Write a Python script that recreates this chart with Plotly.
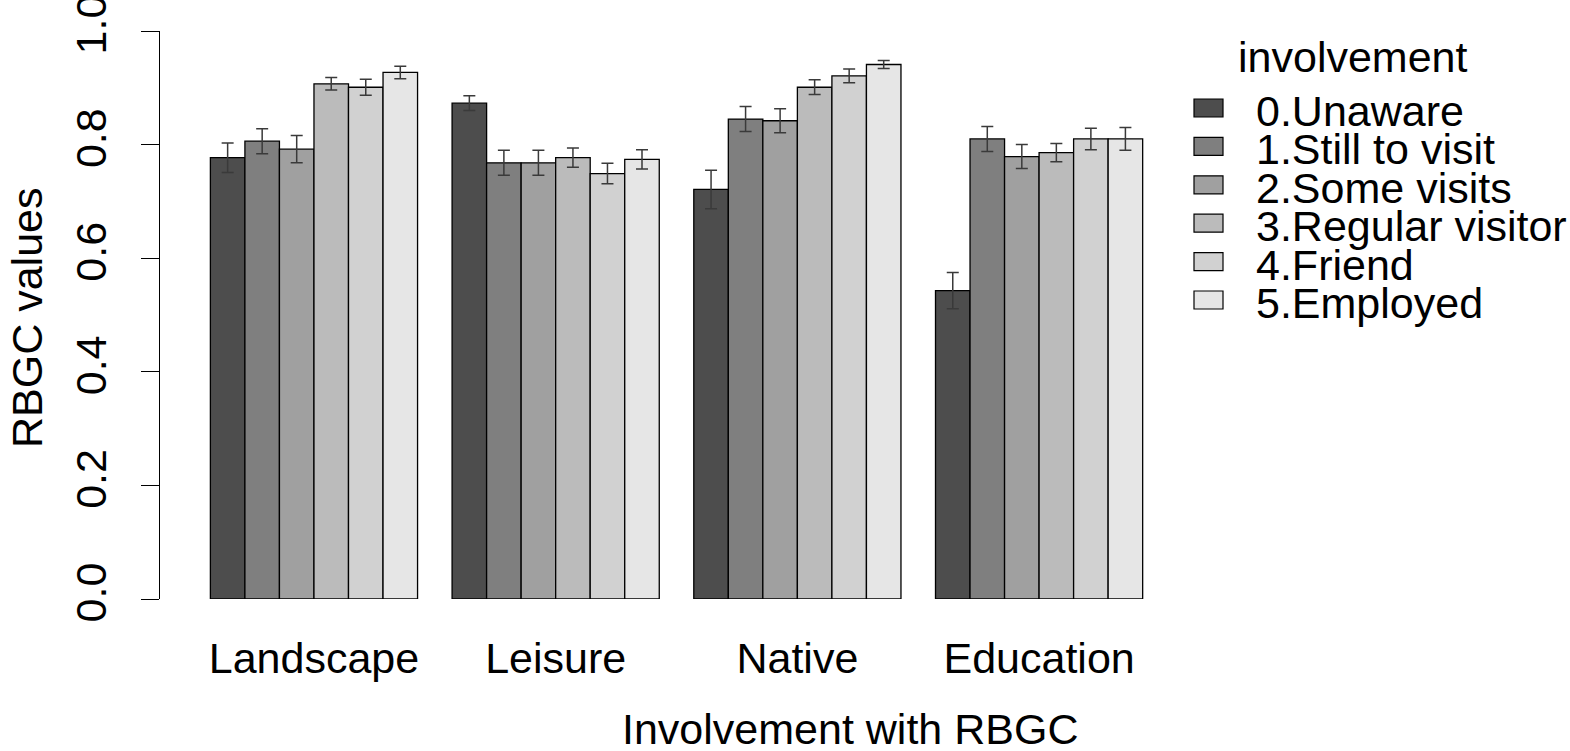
import plotly.graph_objects as go

categories = ["Landscape", "Leisure", "Native", "Education"]
groups = ["0.Unaware", "1.Still to visit", "2.Some visits",
          "3.Regular visitor", "4.Friend", "5.Employed"]
colors = ["#4D4D4D", "#7F7F7F", "#A0A0A0", "#BBBBBB", "#D1D1D1", "#E6E6E6"]

# values[group][category]
means = [
    [0.777, 0.873, 0.721, 0.543],
    [0.806, 0.768, 0.845, 0.810],
    [0.792, 0.768, 0.842, 0.779],
    [0.907, 0.777, 0.901, 0.786],
    [0.901, 0.749, 0.921, 0.810],
    [0.927, 0.774, 0.941, 0.810],
]
errors = [
    [0.026, 0.013, 0.034, 0.032],
    [0.022, 0.022, 0.022, 0.022],
    [0.024, 0.022, 0.021, 0.021],
    [0.011, 0.017, 0.013, 0.016],
    [0.014, 0.018, 0.012, 0.019],
    [0.011, 0.017, 0.007, 0.020],
]
yticks = [0.0, 0.2, 0.4, 0.6, 0.8, 1.0]

FONT = "Liberation Sans, Arial, sans-serif"
FS = 43
W, H = 1570, 751
L, R, T, B = 160, 390, 31, 152
PW, PH = W - L - R, H - T - B

def px2x(px):
    return (px - L) / PW

def px2y(py):
    return (H - B - py) / PH

fig = go.Figure()
for g, name in enumerate(groups):
    fig.add_trace(go.Bar(
        x=categories, y=means[g], name=name,
        marker=dict(color=colors[g], line=dict(color="black", width=1.3)),
        error_y=dict(type="data", array=errors[g], visible=True,
                     color="#3a3a3a", thickness=1.5, width=6),
        showlegend=False,
    ))

shapes = []
annotations = []
# manual legend (R-style)
annotations.append(dict(text="involvement", xref="paper", yref="paper",
                        x=px2x(1236), y=px2y(57), xanchor="left", yanchor="middle",
                        showarrow=False, font=dict(family=FONT, size=FS, color="black")))
row0, pitch = 108, 38.4
for g, name in enumerate(groups):
    cy = row0 + g * pitch
    shapes.append(dict(type="rect", xref="paper", yref="paper",
                       x0=px2x(1194), x1=px2x(1223), y0=px2y(cy + 9), y1=px2y(cy - 9),
                       fillcolor=colors[g], line=dict(color="black", width=1.2)))
    annotations.append(dict(text=name, xref="paper", yref="paper",
                            x=px2x(1254), y=px2y(cy + 3), xanchor="left", yanchor="middle",
                            showarrow=False, font=dict(family=FONT, size=FS, color="black")))

annotations.append(dict(text="Involvement with RBGC", xref="paper", yref="paper",
                        x=px2x(850), y=px2y(729), xanchor="center", yanchor="middle",
                        showarrow=False, font=dict(family=FONT, size=FS, color="black")))
annotations.append(dict(text="RBGC values", xref="paper", yref="paper",
                        x=px2x(27), y=px2y(318), xanchor="center", yanchor="middle",
                        textangle=-90, showarrow=False,
                        font=dict(family=FONT, size=FS, color="black")))

fig.update_layout(
    width=W, height=H,
    margin=dict(l=L, r=R, t=T, b=B, autoexpand=False),
    paper_bgcolor="white", plot_bgcolor="white",
    barmode="group", bargap=1/7, bargroupgap=0,
    font=dict(family=FONT, size=FS, color="black"),
    shapes=shapes, annotations=annotations,
    xaxis=dict(range=[-0.637, 3.583], showline=False, showgrid=False,
               zeroline=False, ticks="", ticklabelstandoff=30,
               tickfont=dict(family=FONT, size=FS, color="black")),
    yaxis=dict(range=[0, 1], tickvals=yticks, ticktext=[f"{v:.1f}" for v in yticks],
               showline=True, linecolor="black", linewidth=1.3,
               ticks="outside", ticklen=18, tickwidth=1.3, tickcolor="black",
               tickangle=-90, ticklabelstandoff=18, ticklabeloverflow="allow",
               showgrid=False, zeroline=False,
               tickfont=dict(family=FONT, size=FS, color="black")),
)

fig.write_html("out.html", config={"displayModeBar": False},
               post_script="document.body.style.margin='0';document.body.style.overflow='hidden';")
